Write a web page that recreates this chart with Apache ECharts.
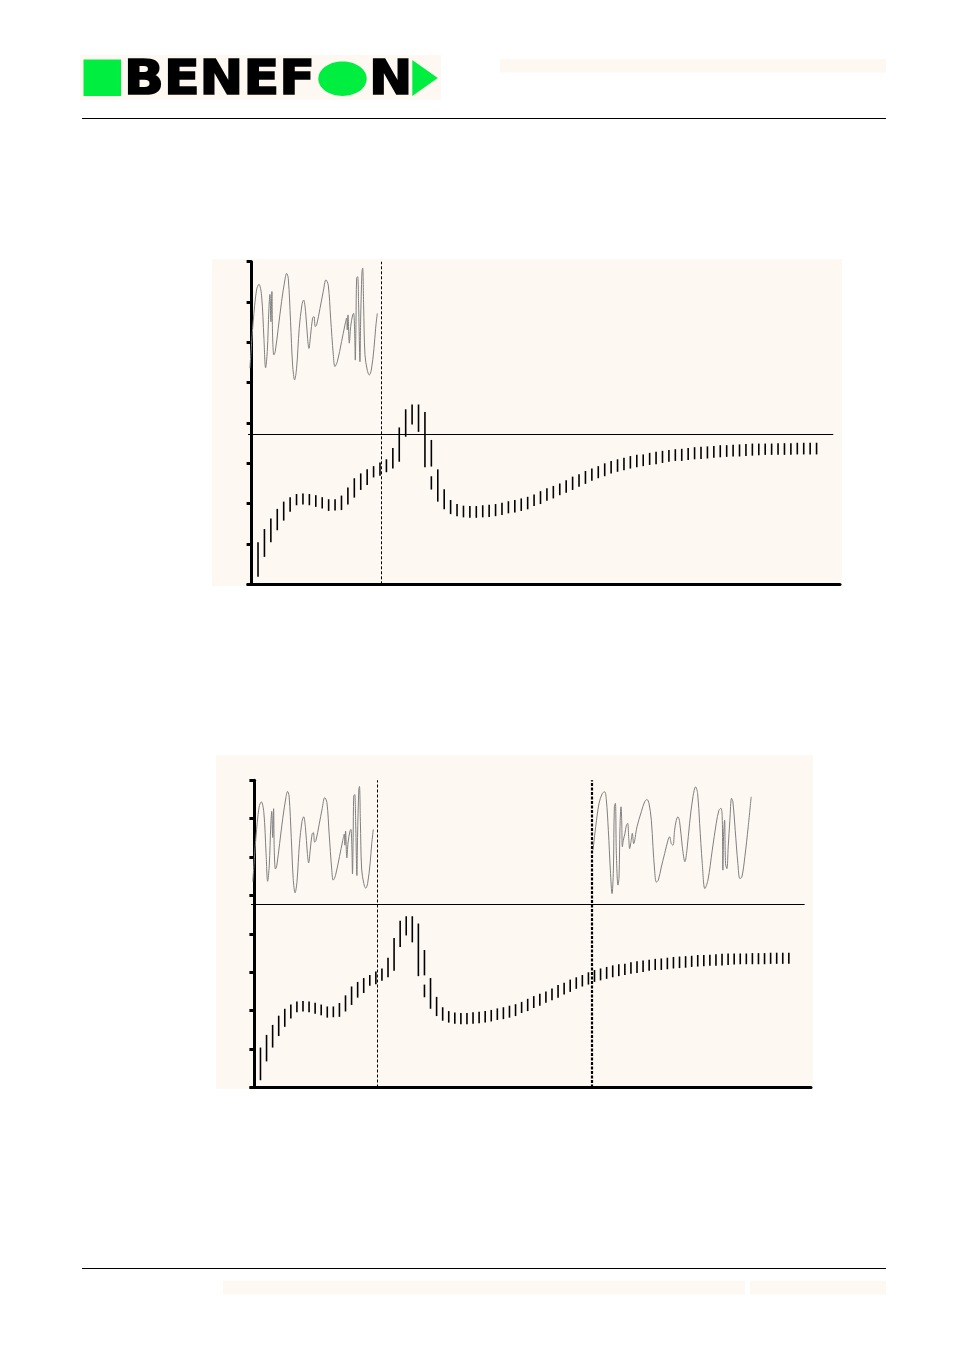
<!DOCTYPE html>
<html>
<head>
<meta charset="utf-8">
<script src="https://cdn.jsdelivr.net/npm/echarts@6/dist/echarts.min.js"></script>
<style>
html,body{margin:0;padding:0;background:#fff;}
#c{width:954px;height:1351px;}
</style>
</head>
<body>
<div id="c"></div>
<script>
// ---- data (axis units) ----
var barHigh = [0.64,1.04,1.37,1.63,1.87,2.05,2.16,2.24,2.25,2.24,2.21,2.16,2.11,2.11,2.20,2.40,2.63,2.75,2.85,2.93,
  3.02,3.10,3.38,3.89,4.34,4.46,4.46,4.27,3.58,2.85,2.36,2.09,1.99,1.95,1.94,1.94,1.96,1.97,1.99,2.02,
  2.06,2.09,2.13,2.17,2.23,2.31,2.38,2.44,2.50,2.58,2.67,2.73,2.81,2.87,2.93,3.00,3.06,3.10,3.14,3.18,
  3.21,3.22,3.26,3.29,3.31,3.33,3.35,3.36,3.38,3.40,3.41,3.42,3.43,3.45,3.45,3.46,3.47,3.48,3.49,3.49,
  3.49,3.49,3.50,3.50,3.50,3.51,3.51,3.51,3.51];
var barLow = [0.10,0.19,0.68,1.04,1.34,1.58,1.80,1.96,1.98,1.96,1.92,1.88,1.82,1.83,1.84,1.98,2.15,2.34,2.46,2.65,
  2.69,2.78,2.87,3.04,3.66,3.96,3.78,2.90,2.92,2.05,1.86,1.74,1.69,1.66,1.65,1.65,1.66,1.67,1.69,1.72,
  1.76,1.78,1.82,1.86,1.94,1.99,2.07,2.13,2.21,2.27,2.34,2.42,2.49,2.57,2.63,2.68,2.75,2.79,2.83,2.87,
  2.90,2.93,2.96,2.98,3.01,3.04,3.06,3.06,3.08,3.10,3.11,3.12,3.14,3.15,3.16,3.17,3.17,3.18,3.19,3.20,
  3.21,3.21,3.21,3.21,3.21,3.22,3.22,3.22,3.22];
var extraBarX = [28];
var extraBarHigh = [2.68];
var extraBarLow = [2.35];

var wave1X = [-0.26,0.25,0.77,1.14,1.55,1.92,2.18,2.44,2.70,2.85,3.01,3.16,3.27,3.47,3.68,4.15,4.67,5.19,5.45,5.71,
  6.07,6.39,6.70,7.01,7.42,7.84,8.10,8.41,8.72,8.93,9.19,9.50,9.71,9.92,10.13,10.65,11.16,11.58,11.94,12.31,
  12.73,12.98,13.35,14.02,14.54,14.80,14.90,15.01,15.22,15.43,15.74,15.89,16.05,16.15,16.26,16.36,16.52,16.67,16.88,16.98,
  17.19,17.30,17.45,17.66,18.02,18.33,18.64,19.06,19.32,19.58];
var wave1Y = [5.36,6.51,7.30,7.44,7.17,6.10,5.37,5.77,6.84,7.19,6.51,7.26,6.18,5.69,5.77,6.35,7.01,7.55,7.71,7.59,
  6.51,5.44,5.07,5.36,6.35,6.93,7.05,6.76,6.10,5.85,6.18,6.60,6.64,6.39,6.43,6.84,7.26,7.55,7.42,6.60,
  5.69,5.40,5.52,6.02,6.43,6.60,6.31,6.68,5.98,6.39,6.68,6.72,6.26,5.56,6.51,7.59,7.63,6.93,5.52,6.51,
  7.75,7.84,6.93,5.69,5.31,5.19,5.31,5.85,6.35,6.72];

var wave2X = [55.76,56.20,56.75,57.30,57.68,57.95,58.28,58.61,58.89,59.11,59.27,59.44,59.60,59.87,60.04,60.20,60.37,60.48,60.59,60.75,
  61.02,61.25,61.46,61.63,61.79,62.01,62.23,62.45,63.00,63.71,64.26,64.64,64.97,65.36,65.63,65.90,66.18,66.51,67.00,67.55,
  68.10,68.37,68.65,68.92,69.19,69.47,69.74,70.02,70.46,70.89,71.22,71.66,72.21,72.65,72.98,73.31,73.75,74.18,74.68,75.39,
  76.05,76.49,76.82,77.03,77.14,77.25,77.42,77.58,77.80,78.02,78.29,78.57,78.79,79.17,79.61,79.94,80.27,80.76,81.31,81.80];
var wave2Y = [6.18,6.79,7.40,7.66,7.70,7.49,6.70,5.66,5.05,5.66,7.31,7.40,6.09,5.27,5.48,6.79,7.31,6.96,6.27,6.44,
  6.62,6.83,6.88,6.53,6.22,6.40,6.62,6.35,6.79,7.18,7.44,7.50,7.40,6.96,6.27,5.66,5.35,5.40,5.74,6.09,
  6.44,6.53,6.35,6.31,6.70,6.96,7.05,6.92,6.27,5.88,6.18,6.88,7.57,7.83,7.66,6.88,5.83,5.18,5.40,6.18,
  6.88,7.22,7.27,7.05,5.66,6.53,6.96,5.83,5.70,6.27,6.96,7.53,7.44,6.70,5.83,5.44,5.48,6.01,6.79,7.57];

var refLevelTop = 3.73;
var refLevelBottom = 4.77;
var markerTop = [20.15];
var markerBottom = [20.2, 55.5];

// ---- build ----
function zip(xs, ys){ var o=[]; for(var i=0;i<xs.length;i++) o.push([xs[i], ys[i]]); return o; }
function barData(){
  var o=[];
  for(var i=0;i<barHigh.length;i++) o.push([i, barLow[i], barHigh[i]]);
  for(var j=0;j<extraBarX.length;j++) o.push([extraBarX[j], extraBarLow[j], extraBarHigh[j]]);
  return o;
}
function renderBar(params, api){
  var x = api.value(0);
  var p1 = api.coord([x, api.value(1)]);
  var p2 = api.coord([x, api.value(2)]);
  return {type:'line', shape:{x1:p1[0], y1:p1[1], x2:p2[0], y2:p2[1]}, style:{stroke:'#000', lineWidth:1.6}};
}
var XMIN = -0.56, XMAX = 91.65, REFEND = 90.6;
function xAx(idx){
  return {gridIndex:idx, type:'value', min:XMIN, max:XMAX,
    axisLine:{show:true, onZero:false, lineStyle:{color:'#000', width:3}},
    axisTick:{show:false}, axisLabel:{show:false}, splitLine:{show:false}};
}
function yAx(idx){
  return {gridIndex:idx, type:'value', min:0, max:8, interval:1,
    axisLine:{show:true, lineStyle:{color:'#000', width:3}},
    axisTick:{show:true, length:5, lineStyle:{color:'#000', width:3}},
    axisLabel:{show:false}, splitLine:{show:false}};
}
var cream = '#fdf8f1';
var green = '#00ee40';
var logoFont = 'bold 48px "DejaVu Sans"';

var option = {
  backgroundColor:'#ffffff',
  animation:false,
  grid:[
    {left:248, top:261.7, width:592, height:322.6},
    {left:251, top:780.3, width:560, height:307.2}
  ],
  xAxis:[xAx(0), xAx(1)],
  yAxis:[yAx(0), yAx(1)],
  graphic:[
    {type:'rect', z:-10, shape:{x:212, y:259, width:630, height:327}, style:{fill:cream}},
    {type:'rect', z:-10, shape:{x:216, y:755, width:597, height:334}, style:{fill:cream}},
    {type:'rect', z:-10, shape:{x:80, y:55, width:361, height:45}, style:{fill:cream}},
    {type:'rect', z:-10, shape:{x:500, y:59, width:386, height:13.5}, style:{fill:cream}},
    {type:'rect', z:-10, shape:{x:223, y:1281, width:522, height:13.5}, style:{fill:cream}},
    {type:'rect', z:-10, shape:{x:750, y:1281, width:136, height:13.5}, style:{fill:cream}},
    {type:'line', shape:{x1:82, y1:118.5, x2:886, y2:118.5}, style:{stroke:'#000', lineWidth:1.2}},
    {type:'line', shape:{x1:82, y1:1268.5, x2:886, y2:1268.5}, style:{stroke:'#000', lineWidth:1.2}},
    {type:'rect', shape:{x:83.5, y:59.5, width:37.5, height:36.5}, style:{fill:green}},
    {type:'text', x:124, y:58, scaleX:1.09, style:{x:0, y:0, text:'BENEF', fill:'#000', stroke:'#000', lineWidth:1.6, font:logoFont, verticalAlign:'top', align:'left'}},
    {type:'ellipse', shape:{cx:342.5, cy:78.7, rx:24.2, ry:17.2}, style:{fill:green}},
    {type:'text', x:369, y:58, scaleX:1.08, style:{x:0, y:0, text:'N', fill:'#000', stroke:'#000', lineWidth:1.6, font:logoFont, verticalAlign:'top', align:'left'}},
    {type:'polygon', shape:{points:[[412.3,60],[437.8,78],[412.3,96]]}, style:{fill:green}}
  ],
  series:[
    {type:'line', xAxisIndex:0, yAxisIndex:0, data:zip(wave1X, wave1Y), symbol:'none', smooth:0.35,
      lineStyle:{color:'#808080', width:1}, z:3,
      markLine:{silent:true, symbol:['none','none'], label:{show:false}, animation:false,
        data:[
          {xAxis:markerTop[0], lineStyle:{color:'#000', width:1, type:[3,2]}},
          [{coord:[XMIN, refLevelTop], lineStyle:{color:'#000', width:1.2, type:'solid'}}, {coord:[REFEND, refLevelTop]}]
        ]}},
    {type:'custom', xAxisIndex:0, yAxisIndex:0, renderItem:renderBar, data:barData(), encode:{x:0, y:[1,2]}, z:4},
    {type:'line', xAxisIndex:1, yAxisIndex:1, data:zip(wave1X, wave1Y), symbol:'none', smooth:0.35,
      lineStyle:{color:'#808080', width:1}, z:3,
      markLine:{silent:true, symbol:['none','none'], label:{show:false}, animation:false,
        data:[
          {xAxis:markerBottom[0], lineStyle:{color:'#000', width:1, type:[3,2]}},
          {xAxis:markerBottom[1], lineStyle:{color:'#000', width:2.2, type:[3,1.5]}},
          [{coord:[XMIN, refLevelBottom], lineStyle:{color:'#000', width:1.2, type:'solid'}}, {coord:[REFEND, refLevelBottom]}]
        ]}},
    {type:'line', xAxisIndex:1, yAxisIndex:1, data:zip(wave2X, wave2Y), symbol:'none', smooth:0.35,
      lineStyle:{color:'#808080', width:1}, z:3},
    {type:'custom', xAxisIndex:1, yAxisIndex:1, renderItem:renderBar, data:barData(), encode:{x:0, y:[1,2]}, z:4}
  ]
};
var chart = echarts.init(document.getElementById('c'), null, {renderer:'canvas'});
chart.setOption(option);
</script>
</body>
</html>
